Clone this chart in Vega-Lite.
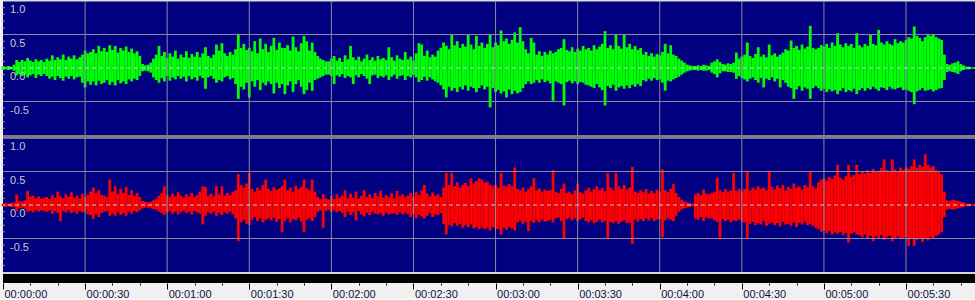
{
"$schema": "https://vega.github.io/schema/vega-lite/v6.json",
"padding": 0,
"background": "#f0f0f0",
"spacing": 0,
"bounds": "flush",
"config": {"view": {"stroke": null}},
"resolve": {"scale": {"x": "independent", "y": "independent"}},
"datasets": {
"yl": [{"v":100,"s":"1.0"},{"v":50,"s":"0.5"},{"v":0,"s":"0.0"},{"v":-50,"s":"-0.5"}],
"yg": [{"v":99.5},{"v":50},{"v":-50}],
"xg": [{"g":30},{"g":60},{"g":90},{"g":120},{"g":150},{"g":180},{"g":210},{"g":240},{"g":270},{"g":300},{"g":330}],
"yt": [{"v":90},{"v":80},{"v":70},{"v":60},{"v":40},{"v":30},{"v":20},{"v":10},{"v":-10},{"v":-20},{"v":-30},{"v":-40},{"v":-60},{"v":-70},{"v":-80},{"v":-90}],
"wave": [
{"t":0,"a":3,"b":-3,"c":2,"d":-2},{"t":1,"a":2,"b":-2,"c":3,"d":-3},{"t":2,"a":3,"b":-3,"c":2,"d":-2},{"t":3,"a":2,"b":-2,"c":3,"d":-3},{"t":4,"a":5,"b":-4,"c":4,"d":-3},
{"t":5,"a":12,"b":-11,"c":16,"d":-9},{"t":6,"a":9,"b":-9,"c":6,"d":-5},{"t":7,"a":12,"b":-12,"c":5,"d":-4},{"t":8,"a":10,"b":-10,"c":7,"d":-6},{"t":9,"a":15,"b":-14,"c":21,"d":-10},
{"t":10,"a":11,"b":-11,"c":12,"d":-9},{"t":11,"a":9,"b":-9,"c":14,"d":-11},{"t":12,"a":13,"b":-15,"c":10,"d":-8},{"t":13,"a":10,"b":-10,"c":13,"d":-10},{"t":14,"a":12,"b":-12,"c":9,"d":-8},
{"t":15,"a":9,"b":-9,"c":11,"d":-9},{"t":16,"a":14,"b":-12,"c":12,"d":-10},{"t":17,"a":11,"b":-16,"c":9,"d":-8},{"t":18,"a":19,"b":-13,"c":15,"d":-13},{"t":19,"a":12,"b":-18,"c":11,"d":-9},
{"t":20,"a":16,"b":-12,"c":20,"d":-12},{"t":21,"a":13,"b":-15,"c":13,"d":-24},{"t":22,"a":20,"b":-19,"c":10,"d":-9},{"t":23,"a":12,"b":-13,"c":16,"d":-11},{"t":24,"a":17,"b":-16,"c":12,"d":-8},
{"t":25,"a":14,"b":-12,"c":19,"d":-12},{"t":26,"a":19,"b":-17,"c":11,"d":-10},{"t":27,"a":13,"b":-14,"c":14,"d":-13},{"t":28,"a":16,"b":-13,"c":10,"d":-9},{"t":29,"a":20,"b":-22,"c":17,"d":-11},
{"t":30,"a":26,"b":-29,"c":12,"d":-10},{"t":31,"a":22,"b":-20,"c":15,"d":-14},{"t":32,"a":24,"b":-25,"c":20,"d":-15},{"t":33,"a":28,"b":-20,"c":26,"d":-21},{"t":34,"a":22,"b":-26,"c":18,"d":-14},
{"t":35,"a":33,"b":-19,"c":22,"d":-18},{"t":36,"a":25,"b":-24,"c":15,"d":-12},{"t":37,"a":30,"b":-22,"c":14,"d":-10},{"t":38,"a":24,"b":-18,"c":12,"d":-9},{"t":39,"a":34,"b":-25,"c":38,"d":-16},
{"t":40,"a":27,"b":-21,"c":20,"d":-13},{"t":41,"a":33,"b":-26,"c":28,"d":-16},{"t":42,"a":23,"b":-18,"c":16,"d":-11},{"t":43,"a":30,"b":-23,"c":24,"d":-15},{"t":44,"a":26,"b":-20,"c":18,"d":-12},
{"t":45,"a":32,"b":-24,"c":27,"d":-16},{"t":46,"a":24,"b":-17,"c":15,"d":-10},{"t":47,"a":29,"b":-20,"c":22,"d":-13},{"t":48,"a":22,"b":-16,"c":14,"d":-9},{"t":49,"a":25,"b":-18,"c":18,"d":-11},
{"t":50,"a":18,"b":-12,"c":12,"d":-8},{"t":51,"a":6,"b":-5,"c":6,"d":-5},{"t":52,"a":4,"b":-4,"c":5,"d":-4},{"t":53,"a":5,"b":-5,"c":4,"d":-4},{"t":54,"a":8,"b":-7,"c":5,"d":-5},
{"t":55,"a":14,"b":-14,"c":7,"d":-6},{"t":56,"a":20,"b":-18,"c":9,"d":-7},{"t":57,"a":33,"b":-22,"c":14,"d":-10},{"t":58,"a":18,"b":-15,"c":18,"d":-12},{"t":59,"a":24,"b":-20,"c":28,"d":-15},
{"t":60,"a":15,"b":-12,"c":15,"d":-11},{"t":61,"a":22,"b":-19,"c":12,"d":-9},{"t":62,"a":17,"b":-14,"c":17,"d":-13},{"t":63,"a":26,"b":-17,"c":13,"d":-10},{"t":64,"a":14,"b":-12,"c":19,"d":-14},
{"t":65,"a":20,"b":-16,"c":14,"d":-11},{"t":66,"a":16,"b":-13,"c":11,"d":-9},{"t":67,"a":25,"b":-20,"c":16,"d":-12},{"t":68,"a":15,"b":-12,"c":13,"d":-10},{"t":69,"a":21,"b":-17,"c":18,"d":-14},
{"t":70,"a":17,"b":-14,"c":12,"d":-9},{"t":71,"a":24,"b":-19,"c":15,"d":-11},{"t":72,"a":16,"b":-12,"c":20,"d":-13},{"t":73,"a":22,"b":-15,"c":28,"d":-29},{"t":74,"a":31,"b":-31,"c":27,"d":-16},
{"t":75,"a":18,"b":-14,"c":14,"d":-11},{"t":76,"a":15,"b":-12,"c":17,"d":-13},{"t":77,"a":20,"b":-16,"c":13,"d":-10},{"t":78,"a":35,"b":-22,"c":28,"d":-16},{"t":79,"a":26,"b":-18,"c":16,"d":-12},
{"t":80,"a":37,"b":-20,"c":28,"d":-15},{"t":81,"a":22,"b":-14,"c":14,"d":-11},{"t":82,"a":18,"b":-12,"c":18,"d":-13},{"t":83,"a":24,"b":-17,"c":15,"d":-10},{"t":84,"a":20,"b":-15,"c":20,"d":-14},
{"t":85,"a":28,"b":-24,"c":22,"d":-20},{"t":86,"a":51,"b":-46,"c":46,"d":-54},{"t":87,"a":30,"b":-28,"c":30,"d":-26},{"t":88,"a":36,"b":-32,"c":26,"d":-22},{"t":89,"a":27,"b":-22,"c":32,"d":-28},
{"t":90,"a":30,"b":-44,"c":48,"d":-30},{"t":91,"a":25,"b":-20,"c":24,"d":-22},{"t":92,"a":40,"b":-28,"c":20,"d":-18},{"t":93,"a":22,"b":-18,"c":26,"d":-24},{"t":94,"a":44,"b":-33,"c":22,"d":-20},
{"t":95,"a":28,"b":-22,"c":30,"d":-26},{"t":96,"a":36,"b":-26,"c":38,"d":-22},{"t":97,"a":24,"b":-20,"c":24,"d":-20},{"t":98,"a":33,"b":-24,"c":21,"d":-23},{"t":99,"a":45,"b":-38,"c":27,"d":-19},
{"t":100,"a":27,"b":-22,"c":23,"d":-25},{"t":101,"a":38,"b":-30,"c":25,"d":-21},{"t":102,"a":30,"b":-24,"c":28,"d":-40},{"t":103,"a":30,"b":-39,"c":38,"d":-24},{"t":104,"a":34,"b":-26,"c":22,"d":-20},
{"t":105,"a":26,"b":-20,"c":26,"d":-26},{"t":106,"a":47,"b":-36,"c":20,"d":-21},{"t":107,"a":31,"b":-24,"c":29,"d":-23},{"t":108,"a":25,"b":-18,"c":24,"d":-19},{"t":109,"a":37,"b":-28,"c":27,"d":-25},
{"t":110,"a":48,"b":-39,"c":38,"d":-40},{"t":111,"a":40,"b":-33,"c":25,"d":-22},{"t":112,"a":26,"b":-22,"c":22,"d":-20},{"t":113,"a":38,"b":-34,"c":38,"d":-24},{"t":114,"a":24,"b":-18,"c":20,"d":-18},
{"t":115,"a":18,"b":-16,"c":12,"d":-10},{"t":116,"a":14,"b":-14,"c":9,"d":-8},{"t":117,"a":12,"b":-12,"c":16,"d":-34},{"t":118,"a":10,"b":-10,"c":10,"d":-9},{"t":119,"a":10,"b":-10,"c":8,"d":-7},
{"t":120,"a":14,"b":-12,"c":13,"d":-10},{"t":121,"a":18,"b":-24,"c":9,"d":-8},{"t":122,"a":11,"b":-11,"c":16,"d":-11},{"t":123,"a":15,"b":-13,"c":11,"d":-9},{"t":124,"a":9,"b":-9,"c":14,"d":-12},
{"t":125,"a":19,"b":-15,"c":22,"d":-18},{"t":126,"a":13,"b":-12,"c":10,"d":-10},{"t":127,"a":33,"b":-14,"c":17,"d":-15},{"t":128,"a":16,"b":-24,"c":11,"d":-11},{"t":129,"a":12,"b":-11,"c":20,"d":-23},
{"t":130,"a":17,"b":-14,"c":9,"d":-9},{"t":131,"a":10,"b":-9,"c":14,"d":-14},{"t":132,"a":14,"b":-12,"c":22,"d":-17},{"t":133,"a":20,"b":-16,"c":12,"d":-12},{"t":134,"a":12,"b":-24,"c":16,"d":-15},
{"t":135,"a":16,"b":-11,"c":10,"d":-10},{"t":136,"a":11,"b":-10,"c":18,"d":-13},{"t":137,"a":18,"b":-15,"c":13,"d":-14},{"t":138,"a":13,"b":-12,"c":21,"d":-12},{"t":139,"a":15,"b":-14,"c":11,"d":-16},
{"t":140,"a":12,"b":-11,"c":15,"d":-11},{"t":141,"a":31,"b":-18,"c":12,"d":-14},{"t":142,"a":16,"b":-13,"c":18,"d":-13},{"t":143,"a":11,"b":-10,"c":10,"d":-12},{"t":144,"a":19,"b":-16,"c":21,"d":-15},
{"t":145,"a":14,"b":-12,"c":13,"d":-11},{"t":146,"a":12,"b":-11,"c":16,"d":-14},{"t":147,"a":24,"b":-18,"c":12,"d":-12},{"t":148,"a":13,"b":-12,"c":14,"d":-14},{"t":149,"a":17,"b":-14,"c":18,"d":-18},
{"t":150,"a":11,"b":-10,"c":12,"d":-13},{"t":151,"a":22,"b":-14,"c":20,"d":-20},{"t":152,"a":37,"b":-21,"c":15,"d":-15},{"t":153,"a":35,"b":-18,"c":22,"d":-17},{"t":154,"a":18,"b":-13,"c":30,"d":-20},
{"t":155,"a":26,"b":-19,"c":17,"d":-16},{"t":156,"a":16,"b":-14,"c":13,"d":-12},{"t":157,"a":20,"b":-17,"c":19,"d":-18},{"t":158,"a":17,"b":-20,"c":14,"d":-14},{"t":159,"a":26,"b":-22,"c":16,"d":-15},
{"t":160,"a":30,"b":-26,"c":12,"d":-12},{"t":161,"a":38,"b":-32,"c":26,"d":-28},{"t":162,"a":33,"b":-44,"c":48,"d":-44},{"t":163,"a":28,"b":-28,"c":30,"d":-30},{"t":164,"a":50,"b":-34,"c":48,"d":-32},
{"t":165,"a":34,"b":-30,"c":28,"d":-27},{"t":166,"a":40,"b":-36,"c":34,"d":-31},{"t":167,"a":30,"b":-28,"c":26,"d":-28},{"t":168,"a":36,"b":-32,"c":30,"d":-34},{"t":169,"a":32,"b":-26,"c":33,"d":-30},
{"t":170,"a":50,"b":-34,"c":28,"d":-33},{"t":171,"a":35,"b":-28,"c":40,"d":-29},{"t":172,"a":28,"b":-30,"c":32,"d":-35},{"t":173,"a":48,"b":-36,"c":36,"d":-33},{"t":174,"a":33,"b":-30,"c":40,"d":-36},
{"t":175,"a":38,"b":-26,"c":38,"d":-34},{"t":176,"a":30,"b":-32,"c":33,"d":-36},{"t":177,"a":36,"b":-28,"c":35,"d":-34},{"t":178,"a":50,"b":-59,"c":30,"d":-38},{"t":179,"a":31,"b":-30,"c":28,"d":-33},
{"t":180,"a":38,"b":-36,"c":30,"d":-35},{"t":181,"a":34,"b":-33,"c":26,"d":-36},{"t":182,"a":56,"b":-38,"c":48,"d":-44},{"t":183,"a":40,"b":-35,"c":29,"d":-34},{"t":184,"a":44,"b":-44,"c":27,"d":-37},
{"t":185,"a":36,"b":-32,"c":31,"d":-33},{"t":186,"a":42,"b":-39,"c":28,"d":-35},{"t":187,"a":53,"b":-34,"c":56,"d":-38},{"t":188,"a":38,"b":-38,"c":24,"d":-26},{"t":189,"a":61,"b":-36,"c":22,"d":-24},
{"t":190,"a":40,"b":-30,"c":26,"d":-28},{"t":191,"a":28,"b":-24,"c":20,"d":-25},{"t":192,"a":22,"b":-20,"c":24,"d":-39},{"t":193,"a":45,"b":-24,"c":28,"d":-24},{"t":194,"a":38,"b":-22,"c":40,"d":-27},
{"t":195,"a":20,"b":-18,"c":22,"d":-23},{"t":196,"a":25,"b":-22,"c":25,"d":-26},{"t":197,"a":18,"b":-17,"c":20,"d":-22},{"t":198,"a":24,"b":-21,"c":23,"d":-25},{"t":199,"a":20,"b":-19,"c":21,"d":-24},
{"t":200,"a":26,"b":-23,"c":22,"d":-22},{"t":201,"a":22,"b":-49,"c":52,"d":-26},{"t":202,"a":24,"b":-20,"c":20,"d":-20},{"t":203,"a":28,"b":-22,"c":18,"d":-19},{"t":204,"a":30,"b":-24,"c":24,"d":-24},
{"t":205,"a":43,"b":-56,"c":32,"d":-51},{"t":206,"a":27,"b":-21,"c":18,"d":-21},{"t":207,"a":25,"b":-19,"c":20,"d":-19},{"t":208,"a":31,"b":-23,"c":16,"d":-23},{"t":209,"a":24,"b":-20,"c":22,"d":-20},
{"t":210,"a":29,"b":-24,"c":32,"d":-24},{"t":211,"a":26,"b":-21,"c":19,"d":-21},{"t":212,"a":33,"b":-22,"c":17,"d":-19},{"t":213,"a":28,"b":-25,"c":22,"d":-24},{"t":214,"a":30,"b":-26,"c":26,"d":-26},
{"t":215,"a":26,"b":-28,"c":20,"d":-23},{"t":216,"a":34,"b":-30,"c":24,"d":-27},{"t":217,"a":28,"b":-24,"c":28,"d":-25},{"t":218,"a":32,"b":-29,"c":22,"d":-22},{"t":219,"a":36,"b":-33,"c":25,"d":-26},
{"t":220,"a":55,"b":-56,"c":21,"d":-24},{"t":221,"a":30,"b":-27,"c":48,"d":-51},{"t":222,"a":34,"b":-30,"c":26,"d":-25},{"t":223,"a":28,"b":-25,"c":22,"d":-27},{"t":224,"a":50,"b":-34,"c":48,"d":-24},
{"t":225,"a":33,"b":-29,"c":28,"d":-28},{"t":226,"a":29,"b":-27,"c":24,"d":-25},{"t":227,"a":50,"b":-31,"c":30,"d":-23},{"t":228,"a":31,"b":-26,"c":23,"d":-27},{"t":229,"a":36,"b":-30,"c":26,"d":-26},
{"t":230,"a":28,"b":-25,"c":57,"d":-58},{"t":231,"a":33,"b":-28,"c":20,"d":-22},{"t":232,"a":27,"b":-24,"c":18,"d":-25},{"t":233,"a":30,"b":-27,"c":22,"d":-21},{"t":234,"a":20,"b":-18,"c":19,"d":-24},
{"t":235,"a":24,"b":-20,"c":24,"d":-20},{"t":236,"a":18,"b":-16,"c":17,"d":-23},{"t":237,"a":22,"b":-19,"c":21,"d":-19},{"t":238,"a":17,"b":-15,"c":18,"d":-24},{"t":239,"a":21,"b":-18,"c":23,"d":-22},
{"t":240,"a":19,"b":-17,"c":20,"d":-21},{"t":241,"a":24,"b":-22,"c":53,"d":-48},{"t":242,"a":36,"b":-34,"c":22,"d":-23},{"t":243,"a":22,"b":-19,"c":19,"d":-20},{"t":244,"a":34,"b":-20,"c":24,"d":-22},
{"t":245,"a":20,"b":-17,"c":31,"d":-24},{"t":246,"a":18,"b":-15,"c":18,"d":-16},{"t":247,"a":14,"b":-13,"c":12,"d":-10},{"t":248,"a":11,"b":-10,"c":8,"d":-7},{"t":249,"a":8,"b":-7,"c":5,"d":-5},
{"t":250,"a":5,"b":-5,"c":4,"d":-4},{"t":251,"a":4,"b":-4,"c":3,"d":-3},{"t":252,"a":3,"b":-3,"c":2,"d":-2},{"t":253,"a":3,"b":-3,"c":16,"d":-20},{"t":254,"a":4,"b":-4,"c":18,"d":-22},
{"t":255,"a":3,"b":-3,"c":15,"d":-18},{"t":256,"a":5,"b":-4,"c":23,"d":-24},{"t":257,"a":4,"b":-4,"c":17,"d":-19},{"t":258,"a":3,"b":-3,"c":16,"d":-20},{"t":259,"a":8,"b":-7,"c":18,"d":-20},
{"t":260,"a":10,"b":-9,"c":20,"d":-23},{"t":261,"a":13,"b":-14,"c":41,"d":-25},{"t":262,"a":9,"b":-8,"c":22,"d":-51},{"t":263,"a":6,"b":-5,"c":19,"d":-21},{"t":264,"a":5,"b":-5,"c":24,"d":-24},
{"t":265,"a":7,"b":-6,"c":20,"d":-22},{"t":266,"a":6,"b":-6,"c":22,"d":-26},{"t":267,"a":8,"b":-7,"c":48,"d":-23},{"t":268,"a":23,"b":-16,"c":21,"d":-24},{"t":269,"a":14,"b":-12,"c":24,"d":-22},
{"t":270,"a":17,"b":-15,"c":20,"d":-25},{"t":271,"a":20,"b":-17,"c":24,"d":-26},{"t":272,"a":38,"b":-20,"c":50,"d":-49},{"t":273,"a":18,"b":-16,"c":22,"d":-28},{"t":274,"a":15,"b":-14,"c":26,"d":-25},
{"t":275,"a":21,"b":-18,"c":23,"d":-30},{"t":276,"a":31,"b":-22,"c":28,"d":-27},{"t":277,"a":17,"b":-15,"c":24,"d":-29},{"t":278,"a":20,"b":-29,"c":26,"d":-24},{"t":279,"a":16,"b":-16,"c":22,"d":-31},
{"t":280,"a":35,"b":-18,"c":50,"d":-28},{"t":281,"a":19,"b":-14,"c":27,"d":-26},{"t":282,"a":22,"b":-20,"c":23,"d":-30},{"t":283,"a":17,"b":-16,"c":29,"d":-27},{"t":284,"a":20,"b":-29,"c":25,"d":-32},
{"t":285,"a":23,"b":-18,"c":30,"d":-25},{"t":286,"a":28,"b":-22,"c":22,"d":-29},{"t":287,"a":26,"b":-28,"c":27,"d":-28},{"t":288,"a":41,"b":-30,"c":24,"d":-31},{"t":289,"a":30,"b":-46,"c":32,"d":-26},
{"t":290,"a":33,"b":-32,"c":26,"d":-33},{"t":291,"a":27,"b":-27,"c":28,"d":-27},{"t":292,"a":35,"b":-34,"c":23,"d":-29},{"t":293,"a":29,"b":-29,"c":30,"d":-25},{"t":294,"a":32,"b":-31,"c":27,"d":-30},
{"t":295,"a":63,"b":-46,"c":50,"d":-28},{"t":296,"a":30,"b":-30,"c":28,"d":-31},{"t":297,"a":28,"b":-27,"c":25,"d":-34},{"t":298,"a":30,"b":-30,"c":34,"d":-36},{"t":299,"a":34,"b":-34,"c":38,"d":-40},
{"t":300,"a":32,"b":-31,"c":40,"d":-38},{"t":301,"a":36,"b":-36,"c":36,"d":-42},{"t":302,"a":30,"b":-32,"c":42,"d":-39},{"t":303,"a":38,"b":-35,"c":39,"d":-44},{"t":304,"a":33,"b":-33,"c":44,"d":-41},
{"t":305,"a":52,"b":-39,"c":60,"d":-43},{"t":306,"a":35,"b":-34,"c":41,"d":-40},{"t":307,"a":31,"b":-30,"c":38,"d":-45},{"t":308,"a":37,"b":-36,"c":43,"d":-42},{"t":309,"a":33,"b":-33,"c":60,"d":-56},
{"t":310,"a":36,"b":-35,"c":42,"d":-43},{"t":311,"a":30,"b":-31,"c":45,"d":-41},{"t":312,"a":52,"b":-39,"c":60,"d":-44},{"t":313,"a":34,"b":-33,"c":46,"d":-45},{"t":314,"a":31,"b":-30,"c":50,"d":-48},
{"t":315,"a":36,"b":-34,"c":47,"d":-44},{"t":316,"a":33,"b":-30,"c":52,"d":-50},{"t":317,"a":50,"b":-32,"c":48,"d":-46},{"t":318,"a":36,"b":-28,"c":54,"d":-54},{"t":319,"a":34,"b":-31,"c":49,"d":-47},
{"t":320,"a":57,"b":-34,"c":51,"d":-49},{"t":321,"a":38,"b":-29,"c":55,"d":-45},{"t":322,"a":35,"b":-30,"c":68,"d":-52},{"t":323,"a":40,"b":-33,"c":52,"d":-48},{"t":324,"a":36,"b":-28,"c":49,"d":-46},
{"t":325,"a":34,"b":-31,"c":68,"d":-54},{"t":326,"a":43,"b":-32,"c":53,"d":-50},{"t":327,"a":37,"b":-30,"c":50,"d":-47},{"t":328,"a":40,"b":-29,"c":56,"d":-51},{"t":329,"a":38,"b":-33,"c":52,"d":-49},
{"t":330,"a":42,"b":-32,"c":56,"d":-48},{"t":331,"a":46,"b":-34,"c":54,"d":-61},{"t":332,"a":44,"b":-36,"c":58,"d":-50},{"t":333,"a":62,"b":-54,"c":68,"d":-61},{"t":334,"a":48,"b":-35,"c":55,"d":-52},
{"t":335,"a":45,"b":-33,"c":60,"d":-49},{"t":336,"a":40,"b":-30,"c":57,"d":-55},{"t":337,"a":46,"b":-34,"c":76,"d":-50},{"t":338,"a":51,"b":-33,"c":60,"d":-53},{"t":339,"a":48,"b":-32,"c":56,"d":-48},
{"t":340,"a":51,"b":-35,"c":58,"d":-50},{"t":341,"a":46,"b":-33,"c":52,"d":-46},{"t":342,"a":44,"b":-31,"c":50,"d":-44},{"t":343,"a":42,"b":-30,"c":46,"d":-40},{"t":344,"a":20,"b":-18,"c":20,"d":-18},
{"t":345,"a":6,"b":-6,"c":7,"d":-7},{"t":346,"a":5,"b":-5,"c":6,"d":-6},{"t":347,"a":7,"b":-6,"c":8,"d":-7},{"t":348,"a":8,"b":-7,"c":7,"d":-6},{"t":349,"a":10,"b":-9,"c":6,"d":-5},
{"t":350,"a":6,"b":-5,"c":5,"d":-4},{"t":351,"a":4,"b":-3,"c":4,"d":-3},{"t":352,"a":2,"b":-2,"c":2,"d":-2},{"t":353,"a":2,"b":-2,"c":2,"d":-2},{"t":354,"a":1,"b":-1,"c":1,"d":-1},
{"t":355,"a":1,"b":-1,"c":1,"d":-1},{"t":356,"a":1,"b":-1,"c":1,"d":-1}
]},
"vconcat": [
{
 "width": 975, "height": 134,
 "view": {"fill": "#000080", "stroke": null},
 "layer": [
  {"data": {"name": "wave"},
   "mark": {"type": "rule", "color": "#00ff00", "strokeWidth": 2.8},
   "encoding": {
    "x": {"field": "t", "type": "quantitative", "scale": {"domain": [0, 356.3], "nice": false, "zero": false}, "axis": null},
    "y": {"field": "a", "type": "quantitative", "scale": {"domain": [-100, 100], "nice": false}, "axis": null},
    "y2": {"field": "b"}
   }},
  {"data": {"name": "xg"},
   "mark": {"type": "rule", "color": "#8a8a9a", "strokeWidth": 1},
   "encoding": {"x": {"field": "g", "type": "quantitative", "axis": null}}},
  {"data": {"name": "yg"},
   "mark": {"type": "rule", "color": "#8a8a9a", "strokeWidth": 1},
   "encoding": {"y": {"field": "v", "type": "quantitative", "axis": null}}},
  {"data": {"values": [{}]},
   "mark": {"type": "rule", "color": "#d0d0d0", "strokeDash": [4, 3], "strokeWidth": 1},
   "encoding": {"y": {"datum": 0, "type": "quantitative", "axis": null}}},
  {"data": {"name": "yt"},
   "mark": {"type": "tick", "orient": "horizontal", "color": "#c0c0c0", "size": 4, "thickness": 1},
   "encoding": {"x": {"datum": 0, "type": "quantitative", "axis": null}, "y": {"field": "v", "type": "quantitative", "axis": null}}},
  {"data": {"name": "yl"},
   "mark": {"type": "text", "align": "left", "baseline": "top", "dx": 7, "dy": 3, "color": "#c8c8c8", "font": "Liberation Sans", "fontSize": 11},
   "encoding": {"x": {"datum": 0, "type": "quantitative", "axis": null}, "y": {"field": "v", "type": "quantitative", "axis": null}, "text": {"field": "s"}}}
 ]
},
{
 "width": 975, "height": 3,
 "view": {"fill": "#808080", "stroke": null},
 "data": {"values": [{}]},
 "mark": {"type": "text", "text": ""},
 "encoding": {}
},
{
 "width": 975, "height": 134,
 "view": {"fill": "#000080", "stroke": null},
 "layer": [
  {"data": {"name": "wave"},
   "mark": {"type": "rule", "color": "#ff0000", "strokeWidth": 2.8},
   "encoding": {
    "x": {"field": "t", "type": "quantitative", "scale": {"domain": [0, 356.3], "nice": false, "zero": false}, "axis": null},
    "y": {"field": "c", "type": "quantitative", "scale": {"domain": [-100, 100], "nice": false}, "axis": null},
    "y2": {"field": "d"}
   }},
  {"data": {"name": "xg"},
   "mark": {"type": "rule", "color": "#8a8a9a", "strokeWidth": 1},
   "encoding": {"x": {"field": "g", "type": "quantitative", "axis": null}}},
  {"data": {"name": "yg"},
   "mark": {"type": "rule", "color": "#8a8a9a", "strokeWidth": 1},
   "encoding": {"y": {"field": "v", "type": "quantitative", "axis": null}}},
  {"data": {"values": [{}]},
   "mark": {"type": "rule", "color": "#d0d0d0", "strokeDash": [4, 3], "strokeWidth": 1},
   "encoding": {"y": {"datum": 0, "type": "quantitative", "axis": null}}},
  {"data": {"name": "yt"},
   "mark": {"type": "tick", "orient": "horizontal", "color": "#c0c0c0", "size": 4, "thickness": 1},
   "encoding": {"x": {"datum": 0, "type": "quantitative", "axis": null}, "y": {"field": "v", "type": "quantitative", "axis": null}}},
  {"data": {"name": "yl"},
   "mark": {"type": "text", "align": "left", "baseline": "top", "dx": 7, "dy": 3, "color": "#c8c8c8", "font": "Liberation Sans", "fontSize": 11},
   "encoding": {"x": {"datum": 0, "type": "quantitative", "axis": null}, "y": {"field": "v", "type": "quantitative", "axis": null}, "text": {"field": "s"}}}
 ]
},
{
 "width": 975, "height": 2,
 "view": {"fill": "#d8d8d8", "stroke": null},
 "data": {"values": [{}]},
 "mark": {"type": "text", "text": ""},
 "encoding": {}
},
{
 "width": 975, "height": 9,
 "view": {"fill": "#000000", "stroke": null},
 "data": {"values": [{"t": 0}]},
 "mark": {"type": "point", "opacity": 0},
 "encoding": {
  "x": {"field": "t", "type": "quantitative", "scale": {"domain": [0, 356.3], "nice": false, "zero": false},
        "axis": {"values": [0,10,20,30,40,50,60,70,80,90,100,110,120,130,140,150,160,170,180,190,200,210,220,230,240,250,260,270,280,290,300,310,320,330,340,350],
                 "labelExpr": "datum.value % 30 == 0 ? '00:0' + floor(datum.value / 60) + ':' + (datum.value % 60 == 0 ? '00' : '30') : ''",
                 "tickSize": {"condition": {"test": "datum.value % 30 == 0", "value": 6}, "value": 2},
                 "tickColor": "#000000", "domain": false, "grid": false,
                 "labelAlign": "left", "labelBaseline": "top", "labelPadding": -1, "labelOffset": 1,
                 "labelColor": "#101040", "labelFont": "Liberation Sans", "labelFontSize": 11,
                 "labelOverlap": false, "labelBound": false, "labelFlush": false, "title": null}}
 }
}
]
}
